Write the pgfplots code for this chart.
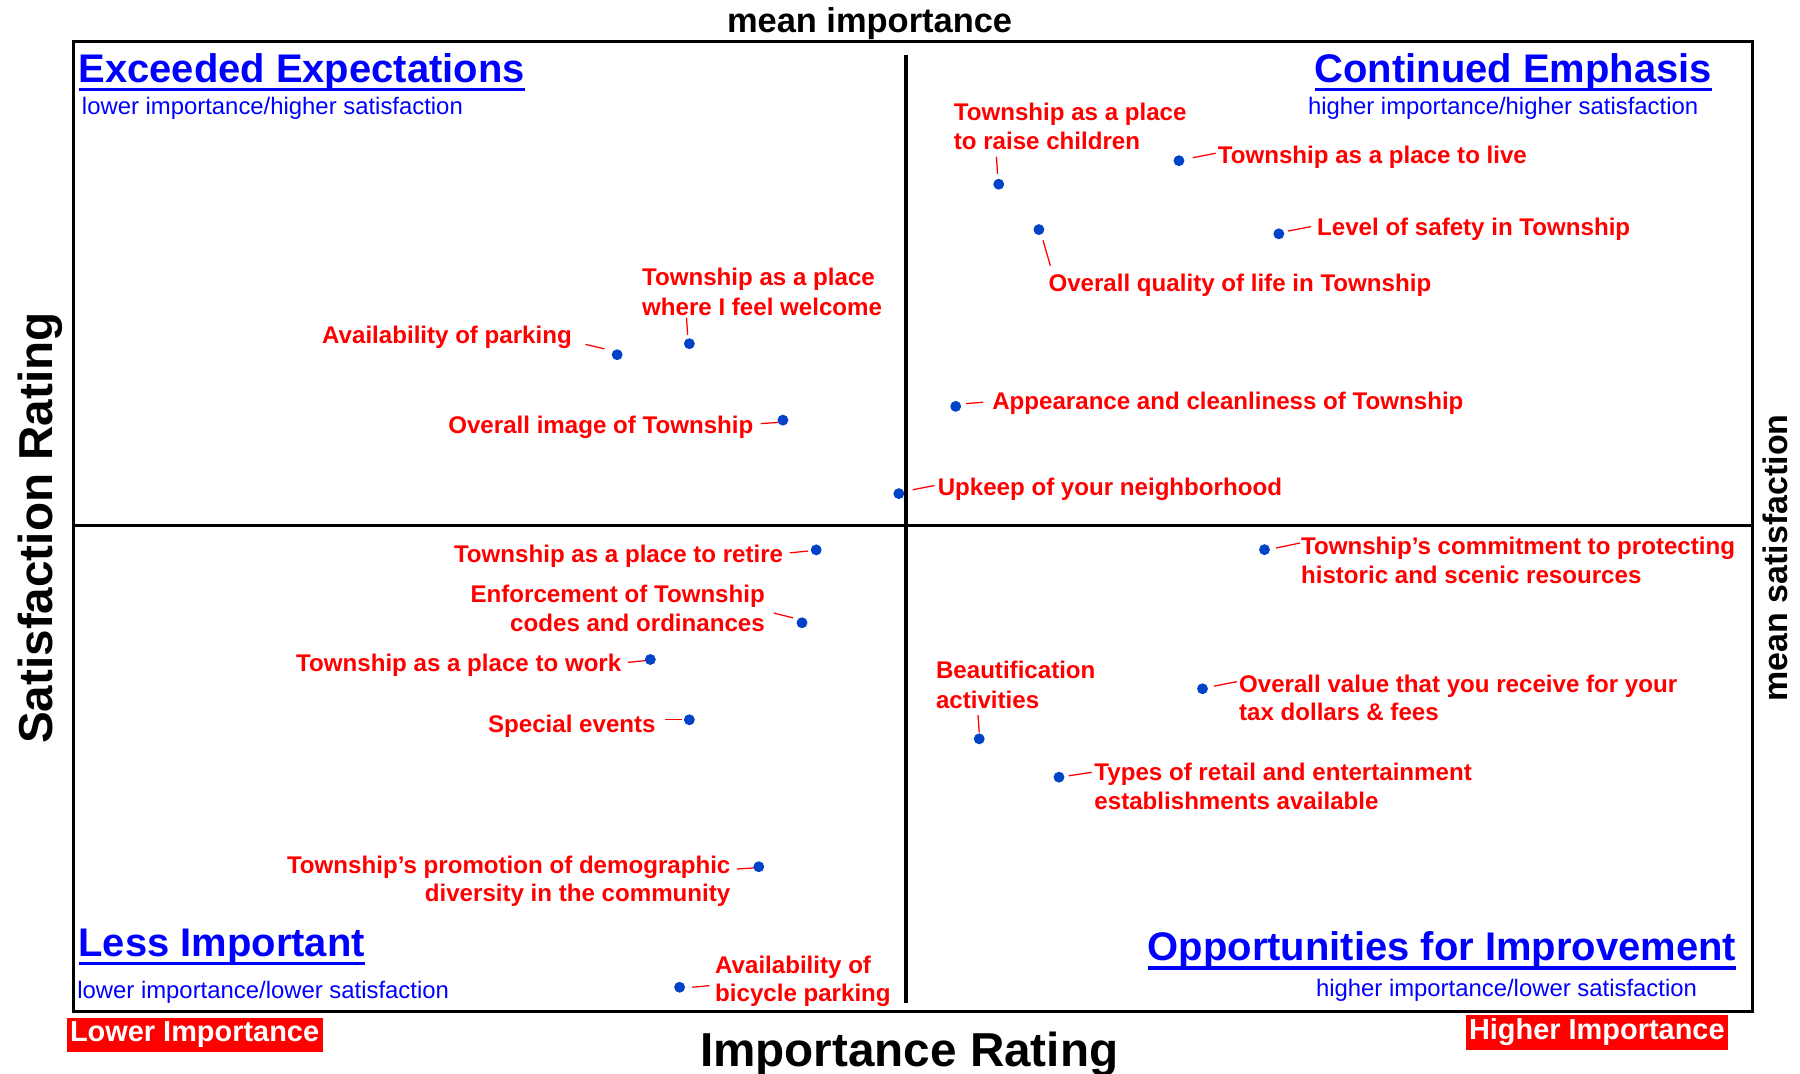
\documentclass[border=0pt]{standalone}
\usepackage{pgfplots}
\pgfplotsset{compat=1.18}
\usepackage{fontspec}
\setmainfont{Liberation Sans}
\definecolor{lblred}{RGB}{255,0,0}
\definecolor{dotblue}{RGB}{0,66,200}
\definecolor{qblue}{RGB}{0,0,255}
\newcommand\ultitle[1]{\sbox0{#1}\rlap{\rule[-0.22em]{\wd0}{0.09em}}\usebox0}
\begin{document}
\begin{tikzpicture}[
  lab/.style={text=lblred, font=\fontsize{10.5}{12}\selectfont\bfseries, inner sep=0pt},
  lead/.style={draw=lblred, line width=0.55pt},
  qt/.style={text=qblue, font=\fontsize{17.4}{20}\selectfont\bfseries, inner sep=0pt},
  qs/.style={text=qblue, font=\fontsize{10.4}{12}\selectfont, inner sep=0pt},
]
\begin{axis}[
  scale only axis, width=731.5pt, height=422.5pt,
  xmin=64, xmax=1527, ymin=36, ymax=881, y dir=reverse,
  xtick=\empty, ytick=\empty,
  axis line style={line width=1.3pt},
  clip=false,
]
% quadrant dividers
\draw[line width=1.9pt] (789,48) -- (789,874);
\draw[line width=1.2pt] (64,457.5) -- (1527,457.5);

% data points (importance, satisfaction) in chart units
\addplot[only marks, mark=*, mark size=2.15pt, color=dotblue, mark options={draw=dotblue, fill=dotblue}] coordinates {
(870,160.5) (1027,140) (905,200) (1114,203.7) (832.5,354) (783,430)
(537.6,309) (600.5,299.4) (682,366)
(711,479) (698.6,542.5) (566.5,574.5) (600.5,627) (661,755) (592,860)
(1101.5,478.8) (853,643.6) (1047.5,600) (922.5,677)
};

% leader lines
\draw[lead] (868,136.5) -- (869,151.5);
\draw[lead] (1039,137.4) -- (1059,133.5);
\draw[lead] (908.6,209.4) -- (915,231.5);
\draw[lead] (1122,201.3) -- (1142,197.4);
\draw[lead] (841.5,351.6) -- (856.5,350.4);
\draw[lead] (795,426.6) -- (814,423);
\draw[lead] (510,300) -- (526.6,303.9);
\draw[lead] (598,276.6) -- (599,291.6);
\draw[lead] (662.6,369) -- (678,368);
\draw[lead] (688,481.6) -- (704,480);
\draw[lead] (674,534) -- (691,538.3);
\draw[lead] (547,577) -- (563,575.4);
\draw[lead] (579,627) -- (594,627);
\draw[lead] (642,757) -- (658,756);
\draw[lead] (603,860) -- (618,858.6);
\draw[lead] (1111.5,477.4) -- (1132.5,473);
\draw[lead] (852,623) -- (853,638);
\draw[lead] (1057.5,597.7) -- (1077.5,593.8);
\draw[lead] (931,675.8) -- (951,672.8);

% labels
\node[lab, anchor=base west] at (830.5,105) {Township as a place};
\node[lab, anchor=base west] at (830.5,130) {to raise children};
\node[lab, anchor=base west] at (1060.5,142.5) {Township as a place to live};
\node[lab, anchor=base west] at (1147,205) {Level of safety in Township};
\node[lab, anchor=base west] at (913,254) {Overall quality of life in Township};
\node[lab, anchor=base west] at (864,357) {Appearance and cleanliness of Township};
\node[lab, anchor=base west] at (816.5,432) {Upkeep of your neighborhood};
\node[lab, anchor=base west] at (559,249) {Township as a place};
\node[lab, anchor=base west] at (559,274.5) {where I feel welcome};
\node[lab, anchor=base east] at (498.5,299.3) {Availability of parking};
\node[lab, anchor=base east] at (656.6,377.4) {Overall image of Township};
\node[lab, anchor=base east] at (682.6,490.3) {Township as a place to retire};
\node[lab, anchor=base east] at (666.6,525) {Enforcement of Township};
\node[lab, anchor=base east] at (666.6,550) {codes and ordinances};
\node[lab, anchor=base east] at (541.6,585.3) {Township as a place to work};
\node[lab, anchor=base east] at (571.5,638) {Special events};
\node[lab, anchor=base east] at (636.6,761) {Township’s promotion of demographic};
\node[lab, anchor=base east] at (636.6,785) {diversity in the community};
\node[lab, anchor=base west] at (622.6,847.7) {Availability of};
\node[lab, anchor=base west] at (622.6,872.7) {bicycle parking};
\node[lab, anchor=base west] at (1133,483.3) {Township’s commitment to protecting};
\node[lab, anchor=base west] at (1133,508) {historic and scenic resources};
\node[lab, anchor=base west] at (815,591.3) {Beautification};
\node[lab, anchor=base west] at (815,617) {activities};
\node[lab, anchor=base west] at (1079,603.3) {Overall value that you receive for your};
\node[lab, anchor=base west] at (1079,627.5) {tax dollars \& fees};
\node[lab, anchor=base west] at (953,680.3) {Types of retail and entertainment};
\node[lab, anchor=base west] at (953,705) {establishments available};

% quadrant titles
\node[qt, anchor=base west] at (68,72) {\ultitle{Exceeded Expectations}};
\node[qs, anchor=base west] at (71,100) {lower importance/higher satisfaction};
\node[qt, anchor=base east] at (1491.6,72) {\ultitle{Continued Emphasis}};
\node[qs, anchor=base west] at (1139,100) {higher importance/higher satisfaction};
\node[qt, anchor=base west] at (68,833.3) {\ultitle{Less Important}};
\node[qs, anchor=base west] at (67,870) {lower importance/lower satisfaction};
\node[qt, anchor=base east] at (1512.6,837) {\ultitle{Opportunities for Improvement}};
\node[qs, anchor=base west] at (1146,868) {higher importance/lower satisfaction};

% axis titles
\node[font=\fontsize{15}{18}\selectfont\bfseries, inner sep=0pt, anchor=base] at (757.5,28) {mean importance};
\node[font=\fontsize{20.75}{24}\selectfont\bfseries, inner sep=0pt, anchor=base] at (792,929) {Importance Rating};
\node[font=\fontsize{20.75}{24}\selectfont\bfseries, inner sep=0pt, anchor=base, rotate=90] at (46,460) {Satisfaction Rating};
\node[font=\fontsize{14.8}{18}\selectfont\bfseries, inner sep=0pt, anchor=base, rotate=90] at (1557,486) {mean satisfaction};

% importance boxes
\node[fill=lblred, text=white, font=\fontsize{12.6}{15}\selectfont\bfseries, inner sep=0pt, minimum width=111.5pt, minimum height=15pt] at (169.5,901.5) {Lower Importance};
\node[fill=lblred, text=white, font=\fontsize{12.6}{15}\selectfont\bfseries, inner sep=0pt, minimum width=114pt, minimum height=15.3pt] at (1391,899.3) {Higher Importance};

\coordinate (bbtl) at (0,0);
\coordinate (bbbr) at (1568,935);
\end{axis}
\pgfresetboundingbox
\path[use as bounding box] (bbtl) rectangle (bbbr);
\end{tikzpicture}
\end{document}
